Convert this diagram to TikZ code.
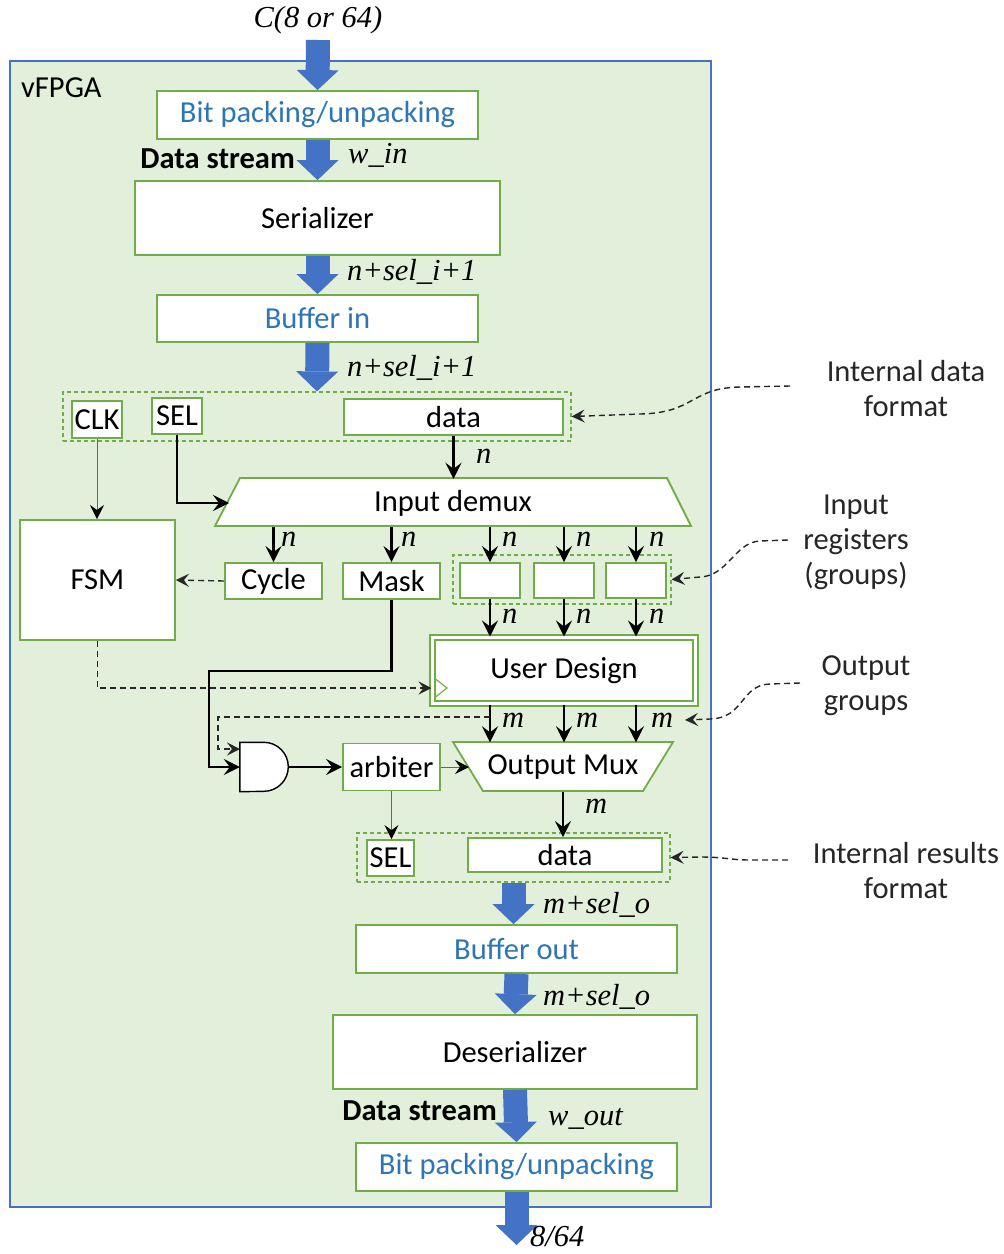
\documentclass[tikz,border=0pt]{standalone}
\usepackage{fontspec}
\setmainfont{Carlito}
\newfontfamily\tnr{Liberation Serif}
\usetikzlibrary{arrows.meta,calc}

\definecolor{grn}{HTML}{70AD47}
\definecolor{frmfill}{HTML}{E2EFDA}
\definecolor{frmline}{HTML}{4472C4}
\definecolor{blu}{HTML}{4472C4}
\definecolor{txtblue}{HTML}{2E75B6}
\definecolor{anno}{HTML}{262626}

\begin{document}
\begin{tikzpicture}[x=1pt,y=-1pt,
  every node/.style={inner sep=0pt},
  font=\fontsize{30.5}{35}\selectfont,
  frame/.style={draw=frmline, fill=frmfill, line width=1.2pt},
  gbox/.style={draw=grn, line width=1.8pt, fill=white},
  grp/.style={draw=grn, line width=1.2pt, dash pattern=on 4pt off 3pt},
  thk/.style={line width=2.8pt, -{Stealth[length=16pt,width=16pt,inset=6pt]}},
  thn/.style={line width=0.9pt, draw=black!60, -{Stealth[length=14pt,width=14pt,inset=5pt,color=black]}},
  dsh/.style={line width=1.4pt, draw=anno, dash pattern=on 6pt off 4pt, -{Stealth[length=13pt,width=13pt,inset=5pt]}},
  bigarr/.style={draw=blu, line width=24pt, -{Triangle[length=20pt,width=42pt,line width=0pt]}},
  lbl/.style={font=\fontsize{30.5}{35}\selectfont\tnr\itshape, anchor=west},
  blutxt/.style={text=txtblue},
]
\useasboundingbox (0,0) rectangle (1004,1254);

% outer vFPGA frame
\node[frame, minimum width=701pt, minimum height=1146pt] (fpga) at (360.5,634) {};
\node[anchor=west] (vf) at (21,88) {vFPGA};

% input side
\node[lbl, anchor=center] (ctxt) at (318,20) {C(8 or 64)};
\coordinate (cin) at (318,40);
\node[gbox, blutxt, minimum width=321pt, minimum height=48pt] (bp1) at (317.5,115) {Bit packing/unpacking};
\node[gbox, minimum width=365pt, minimum height=74pt] (ser) at (317.5,218) {Serializer};
\node[gbox, blutxt, minimum width=321pt, minimum height=47pt] (bufin) at (317.5,318.5) {Buffer in};

\draw[bigarr] (cin) -- (bp1.north);
\draw[bigarr] (bp1.south) -- (ser.north);
\draw[bigarr] (ser.south) -- (bufin.north);

\node[anchor=east, font=\fontsize{30.5}{35}\selectfont\bfseries] (ds1) at (295,159) {Data stream};
\node[lbl] (win) at (348,155) {w\_in};
\node[lbl] (w1) at (347,272) {n+sel\_i+1};
\node[lbl] (w2) at (347,368) {n+sel\_i+1};

% internal data format group
\node[grp, minimum width=508pt, minimum height=49pt] (ingrp) at (317,416.5) {};
\node[gbox, minimum width=50pt, minimum height=37pt] (clk) at (97,419.5) {CLK};
\node[gbox, minimum width=50pt, minimum height=36pt] (sel) at (177,416) {SEL};
\node[gbox, minimum width=219pt, minimum height=36pt] (data1) at (453.5,417) {data};
\draw[bigarr] (bufin.south) -- (ingrp.north);

% input demux
\draw[gbox] (240,478) -- (667,478) -- (691,526) -- (215,526) -- cycle;
\node[minimum width=476pt, minimum height=48pt] (dmx) at (453,503) {Input demux};
\coordinate (dmxL) at (229,503);

\draw[thk] (data1.south) -- (data1.south |- dmx.north);
\node[lbl] at (476,456) {n};
\draw[thk] (sel.south) |- (dmxL);
\draw[thn] (clk.south) -- (97,519);

% FSM, cycle, mask
\node[gbox, minimum width=155pt, minimum height=120pt] (fsm) at (97.5,580) {FSM};
\node[gbox, minimum width=97pt, minimum height=36pt] (cyc) at (273.5,581) {Cycle};
\node[gbox, minimum width=97pt, minimum height=36pt] (mask) at (391.5,581) {Mask};
\draw[dsh] (cyc.west) -- (fsm.east);

% input registers
\node[grp, minimum width=218pt, minimum height=49pt] (regs) at (562,579.5) {};
\node[gbox, minimum width=60pt, minimum height=35pt] (r1) at (490,580.5) {};
\node[gbox, minimum width=60pt, minimum height=35pt] (r2) at (564,580.5) {};
\node[gbox, minimum width=60pt, minimum height=35pt] (r3) at (636,580.5) {};

\draw[thk] (cyc.north |- dmx.south) -- (cyc.north);
\draw[thk] (mask.north |- dmx.south) -- (mask.north);
\draw[thk] (r1.north |- dmx.south) -- (r1.north);
\draw[thk] (r2.north |- dmx.south) -- (r2.north);
\draw[thk] (r3.north |- dmx.south) -- (r3.north);
\foreach \x in {281,401,502,576,649} \node[lbl] at (\x,539) {n};

% user design
\node[draw=grn, line width=2pt, double=white, double distance=2.5pt, fill=white,
      minimum width=263pt, minimum height=66pt] (ud) at (564,670.5) {User Design};
\draw[grn, line width=1.2pt] (435.5,679) -- (447,688) -- (435.5,697);

\draw[thk] (r1.south) -- (r1.south |- ud.north);
\draw[thk] (r2.south) -- (r2.south |- ud.north);
\draw[thk] (r3.south) -- (r3.south |- ud.north);
\foreach \x in {502,576,649} \node[lbl] at (\x,616) {n};

\draw[dsh] (fsm.south) |- ($(ud.west)+(0,17.5)$);

% output mux
\draw[gbox] (453,742) -- (673,742) -- (643,791) -- (483,791) -- cycle;
\node[minimum width=220pt, minimum height=49pt] (omx) at (563,767) {Output Mux};
\coordinate (omxL) at (469,767);

\draw[thk] (r1.south |- ud.south) -- (r1.south |- omx.north);
\draw[thk] (r2.south |- ud.south) -- (r2.south |- omx.north);
\draw[thk] (r3.south |- ud.south) -- (r3.south |- omx.north);
\foreach \x in {502,576,651} \node[lbl] at (\x,720) {m};

% AND gate
\node[minimum width=48pt, minimum height=49pt] (andg) at (264,767) {};
\draw[line width=1.4pt, fill=white] (andg.north west) -- ++(24,0)
   arc[start angle=90, end angle=-90, radius=24.5pt] -- (andg.south west) -- cycle;
\coordinate (dj) at (490,717);
\coordinate (andin1) at (240,749);
\draw[thk] (mask.south) |- (209,671) |- (andg.west);
\draw[dsh] (dj) -- (218,717) |- (andin1);

% arbiter
\node[gbox, minimum width=97pt, minimum height=47pt] (arb) at (391.5,767) {arbiter};
\draw[thk] (andg.east) -- (arb.west);
\draw[thn] (arb.east) -- (omxL);

% internal results format group
\node[grp, minimum width=313pt, minimum height=49pt] (lowgrp) at (513.5,857.5) {};
\node[gbox, minimum width=47pt, minimum height=36pt] (sel2) at (390.5,858) {SEL};
\node[gbox, minimum width=194pt, minimum height=34pt] (data2) at (565,855) {data};
\draw[thn] (arb.south) -- (arb.south |- sel2.north);
\draw[thk] (omx.south) -- (omx.south |- data2.north);
\node[lbl] at (585,806) {m};

% output side
\node[gbox, blutxt, minimum width=321pt, minimum height=48pt] (bufout) at (516.5,949) {Buffer out};
\node[gbox, minimum width=364pt, minimum height=74pt] (deser) at (515,1052) {Deserializer};
\node[gbox, blutxt, minimum width=321pt, minimum height=48pt] (bp2) at (516.5,1167) {Bit packing/unpacking};
\coordinate (cout) at (516.5,1245);

\draw[bigarr] (lowgrp.south) -- (lowgrp.south |- bufout.north);
\draw[bigarr] (bufout.south) -- (deser.north);
\draw[bigarr] (deser.south) -- (bp2.north);
\draw[bigarr] (bp2.south) -- (cout);

\node[lbl] (w3) at (543,905) {m+sel\_o};
\node[lbl] (w4) at (543,997) {m+sel\_o};
\node[anchor=east, font=\fontsize{30.5}{35}\selectfont\bfseries] (ds2) at (497,1111) {Data stream};
\node[lbl] (wout) at (548,1119) {w\_out};
\node[lbl] (c8) at (530,1236) {8/64};

% annotations on the right
\node[align=center, text=anno] (a1) at (906,389) {Internal data\\format};
\node[align=center, text=anno] (a2) at (856,542) {Input\\registers\\(groups)};
\node[align=center, text=anno] (a3) at (866,686) {Output\\groups};
\node[align=center, text=anno] (a4) at (906,871) {Internal results\\format};

\coordinate (a1s) at (790,386);
\coordinate (a2s) at (788,540);
\coordinate (a3s) at (800,683);
\coordinate (a4s) at (788,860);
\coordinate (ogt) at (685,720);

\draw[dsh] (a1s) -- (740,387) .. controls (690,388) and (695,413) .. (640,414) -- (ingrp.east);
\draw[dsh] (a2s) -- (760,541) .. controls (735,542) and (728,576) .. (700,577) -- (regs.east);
\draw[dsh] (a3s) -- (770,684) .. controls (740,685) and (745,718) .. (710,719) -- (ogt);
\draw[dsh] (a4s) -- (750,860) .. controls (730,860) and (725,857) .. (700,857) -- (lowgrp.east);
\end{tikzpicture}
\end{document}
